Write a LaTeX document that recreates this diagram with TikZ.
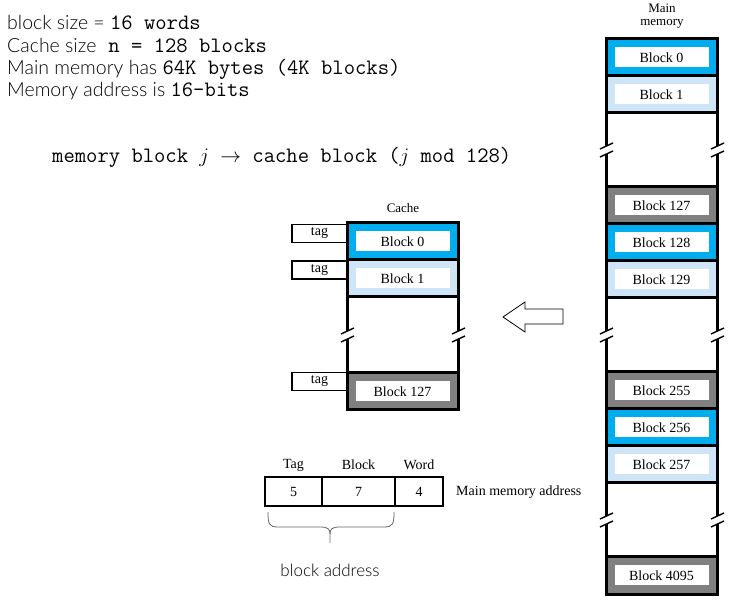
\documentclass[tikz,border=0pt]{standalone}
\usepackage{fontspec}
\setmainfont{Liberation Serif}
\newfontfamily\lightsans{Lato Light}
\usetikzlibrary{calc}
\definecolor{dblue}{RGB}{0,173,239}
\definecolor{lblue}{RGB}{205,229,247}
\definecolor{dgray}{RGB}{128,128,128}
\tikzset{
  cellbox/.style={draw=black, line width=3pt, minimum width=111pt, minimum height=37pt, inner sep=0pt, outer sep=0pt},
  innerbox/.style={fill=white, minimum width=94pt, minimum height=20pt, inner sep=0pt, font=\rmfamily\fontsize{14}{14}\selectfont},
  tagbox/.style={draw=black, line width=1.2pt, minimum width=55pt, minimum height=18pt, inner sep=0pt, font=\rmfamily\fontsize{14}{14}\selectfont},
  addrbox/.style={draw=black, line width=2.6pt, minimum height=29pt, inner sep=0pt, outer sep=0pt, font=\rmfamily\fontsize{14}{14}\selectfont},
  sertext/.style={font=\rmfamily\fontsize{14}{14}\selectfont, inner sep=0pt},
  toptext/.style={anchor=base west, inner sep=0pt, font=\lightsans\fontsize{19.5}{21}\selectfont},
  colline/.style={line width=3pt},
  brkline/.style={line width=1.4pt},
}
\newcommand{\mono}[1]{\texttt{\fontsize{22}{22}\selectfont #1}}
\newcommand{\brkmark}[2]{%
  \draw[brkline] (#1-6,#2-1) -- (#1+7,#2-7);
  \draw[brkline] (#1-6,#2+7) -- (#1+7,#2+1);}
\newcommand{\gapcol}[4]{% x-left, x-right, y-top, y-bottom
  \pgfmathsetmacro\gmid{(#3+#4)/2}
  \foreach \gx in {#1,#2}{
    \draw[colline] (\gx,#3) -- (\gx,\gmid-4);
    \draw[colline] (\gx,\gmid+4) -- (\gx,#4);
    \brkmark{\gx}{\gmid}
  }}
\begin{document}
\begin{tikzpicture}[x=1pt,y=-1pt]
\useasboundingbox (0,0) rectangle (748,612);

% top-left text
\node[toptext] (t1) at (7,30) {block size = \mono{16 words}};
\node[toptext] (t2) at (7,53) {Cache size\hspace{12pt}\mono{n = 128 blocks}};
\node[toptext] (t3) at (7,75) {Main memory has \mono{64K bytes (4K blocks)}};
\node[toptext] (t4) at (7,97) {Memory address is \mono{16-bits}};

\node[anchor=base west, inner sep=0pt, font=\ttfamily\fontsize{22}{22}\selectfont] (map) at (52,163)
  {memory block $j$ $\rightarrow$ cache block ($j$ mod 128)};

% main memory
\node[inner sep=0pt, align=center, font=\rmfamily\fontsize{13}{13}\selectfont] (mmlab) at (662,16) {Main\\memory};
\foreach \nm/\yc/\col/\txt in {m0/57.5/dblue/Block 0, m1/94.5/lblue/Block 1, m127/205.5/dgray/Block 127,
   m128/242.5/dblue/Block 128, m129/279.5/lblue/Block 129, m255/390.5/dgray/Block 255,
   m256/427.5/dblue/Block 256, m257/464.5/lblue/Block 257, m4095/575.5/dgray/Block 4095}{
  \node[cellbox, fill=\col] (\nm) at (661.5,\yc) {};
  \node[innerbox] (\nm i) at (\nm.center) {\txt};
}
\gapcol{606}{717}{113}{187}
\gapcol{606}{717}{298}{372}
\gapcol{606}{717}{483}{557}

% cache
\node[sertext] (cachelab) at (403,208) {\fontsize{13}{13}\selectfont Cache};
\foreach \nm/\yc/\col/\txt in {c0/241.5/dblue/Block 0, c1/278.5/lblue/Block 1, c127/391.5/dgray/Block 127}{
  \node[cellbox, fill=\col] (\nm) at (402.5,\yc) {};
  \node[innerbox] (\nm i) at (\nm.center) {\txt};
}
\gapcol{347}{458}{297}{373}
\node[tagbox] (tg0) at (319.5,233.5) {\raisebox{2pt}{tag}};
\node[tagbox] (tg1) at (319.5,270) {\raisebox{2pt}{tag}};
\node[tagbox] (tg2) at (319.5,381.5) {\raisebox{2pt}{tag}};

% hollow arrow
\draw[line width=0.8pt, line join=miter] (503,317) -- (525,302) -- (525,309) -- (563,309) -- (563,324) -- (525,324) -- (525,332) -- cycle;

% address fields
\node[addrbox, minimum width=57pt] (a5) at (293.5,491.5) {5};
\node[addrbox, minimum width=73pt] (a7) at (358.5,491.5) {7};
\node[addrbox, minimum width=48pt] (a4) at (419,491.5) {4};
\node[sertext] (ltag) at (293.5,465) {Tag};
\node[sertext] (lblk) at (358.5,465) {Block};
\node[sertext] (lwrd) at (419,465) {Word};
\node[sertext, anchor=west] (lmma) at (456,492) {Main memory address};

% brace
\draw[line width=0.8pt, draw=black!60] (268,512) .. controls (268,524) and (269,527) .. (278,527) -- (320,527)
   .. controls (328,527) and (330,529) .. (330,534) -- (330,543);
\draw[line width=0.8pt, draw=black!60] (394,512) .. controls (394,524) and (393,527) .. (384,527) -- (340,527)
   .. controls (332,527) and (330,529) .. (330,534);
\node[inner sep=0pt, font=\lightsans\fontsize{17}{17}\selectfont] (baddr) at (330,570) {block address};
\end{tikzpicture}
\end{document}
